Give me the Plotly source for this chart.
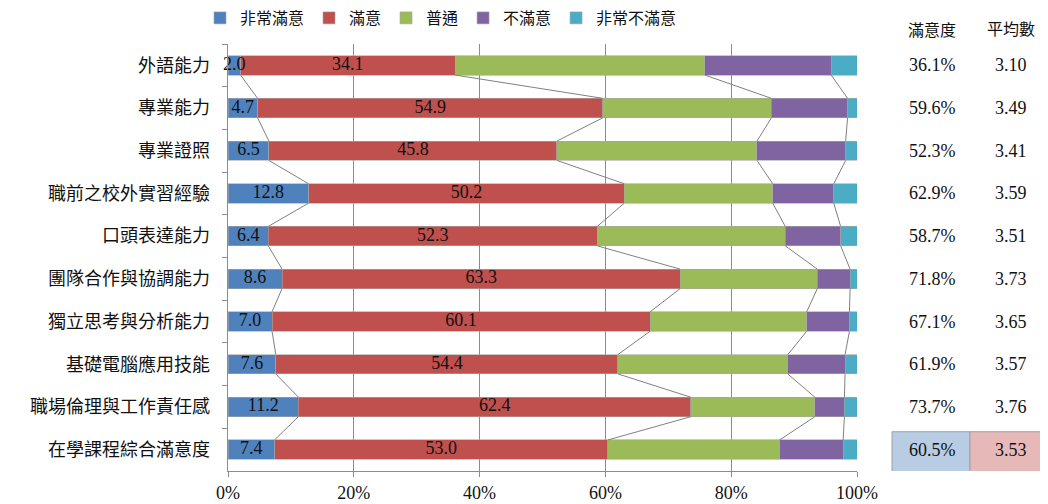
import plotly.graph_objects as go

categories = ["外語能力", "專業能力", "專業證照", "職前之校外實習經驗", "口頭表達能力",
              "團隊合作與協調能力", "獨立思考與分析能力", "基礎電腦應用技能",
              "職場倫理與工作責任感", "在學課程綜合滿意度"]
series_names = ["非常滿意", "滿意", "普通", "不滿意", "非常不滿意"]
very_satisfied = [2.0, 4.7, 6.5, 12.8, 6.4, 8.6, 7.0, 7.6, 11.2, 7.4]
satisfied = [34.1, 54.9, 45.8, 50.2, 52.3, 63.3, 60.1, 54.4, 62.4, 53.0]
neutral = [39.7, 26.8, 31.8, 23.6, 29.9, 21.8, 24.9, 27.0, 19.7, 27.3]
dissatisfied = [20.1, 12.1, 14.1, 9.7, 8.8, 5.2, 6.8, 9.1, 4.7, 10.1]
very_dissatisfied = [4.1, 1.5, 1.8, 3.7, 2.6, 1.1, 1.2, 1.9, 2.0, 2.2]
satisfaction_rate = ["36.1%", "59.6%", "52.3%", "62.9%", "58.7%", "71.8%", "67.1%", "61.9%", "73.7%", "60.5%"]
mean_score = ["3.10", "3.49", "3.41", "3.59", "3.51", "3.73", "3.65", "3.57", "3.76", "3.53"]
table_headers = ["滿意度", "平均數"]
x_ticks = [0, 20, 40, 60, 80, 100]

series_values = [very_satisfied, satisfied, neutral, dissatisfied, very_dissatisfied]
colors = ["#4F81BD", "#C0504D", "#9BBB59", "#8064A2", "#4BACC6"]

FONT = "Liberation Serif, Noto Sans CJK TC"
BARGAP = 0.545
n = len(categories)

# page body has an 8px default margin; plot area placed so it lands at x 228-857, y 44-471
ML, MT, MR, MB = 220, 36, 199, 41
PH = 504 - MT - MB
PW = 1048 - ML - MR

def px_x(p):  # screenshot x pixel -> paper x
    return (p - 8 - ML) / PW

def px_y(p):  # screenshot y pixel -> paper y
    return 1 - (p - 8 - MT) / PH

fig = go.Figure()
for name, vals, col in zip(series_names, series_values, colors):
    fig.add_trace(go.Bar(
        y=categories, x=vals, name=name, orientation="h",
        marker=dict(color=col, line=dict(color="#A6A6A6", width=0.6)),
        hoverinfo="x+y+name",
    ))

# cumulative boundaries
cums = []
for i in range(n):
    c, s = [], 0.0
    for vals in series_values:
        s += vals[i]
        c.append(s)
    cums.append(c)

# series lines connecting segment boundaries between adjacent bars
half = (1 - BARGAP) / 2
lx, ly = [], []
for i in range(n - 1):
    for k in range(len(series_values) - 1):
        lx += [cums[i][k], cums[i + 1][k], None]
        ly += [i + half, i + 1 - half, None]
fig.add_trace(go.Scatter(x=lx, y=ly, mode="lines", yaxis="y2", showlegend=False,
                         line=dict(color="#808080", width=1), hoverinfo="skip"))

# data labels for the first two series (drawn on top)
for k in range(2):
    vals = series_values[k]
    xc = [cums[i][k] - vals[i] / 2 for i in range(n)]
    fig.add_trace(go.Scatter(x=xc, y=categories, mode="text", showlegend=False,
                             text=[f"{v:.1f}" for v in vals], hoverinfo="skip",
                             cliponaxis=False,
                             textfont=dict(family=FONT, size=18, color="#111111")))

# right-side table
col_x = [px_x(932), px_x(1011)]
for cx, h in zip(col_x, table_headers):
    fig.add_annotation(x=cx, y=px_y(30), xref="paper", yref="paper", text=h,
                       xanchor="center", yanchor="middle",
                       showarrow=False, font=dict(family=FONT, size=16, color="#111111"))
fig.add_shape(type="rect", xref="paper", yref="y", x0=px_x(892), x1=px_x(970), y0=8.58, y1=9.52,
              fillcolor="#B8CCE4", line=dict(color="#A0A0A0", width=1), layer="below")
fig.add_shape(type="rect", xref="paper", yref="y", x0=px_x(970), x1=px_x(1049), y0=8.58, y1=9.52,
              fillcolor="#E6B9B8", line=dict(color="#A0A0A0", width=1), layer="below")
for cat, r, m in zip(categories, satisfaction_rate, mean_score):
    for cx, t in zip(col_x, [r, m]):
        fig.add_annotation(x=cx, y=cat, xref="paper", yref="y", text=t, showarrow=False,
                           xanchor="center", yanchor="middle",
                           font=dict(family=FONT, size=18, color="#111111"))

fig.update_layout(
    width=1048, height=504,
    barmode="stack", bargap=BARGAP,
    margin=dict(l=ML, r=MR, t=MT, b=MB, autoexpand=False),
    paper_bgcolor="white", plot_bgcolor="white",
    font=dict(family=FONT, size=16, color="#111111"),
    legend=dict(orientation="h", x=px_x(200), y=px_y(18), xanchor="left", yanchor="middle",
                font=dict(family=FONT, size=16), traceorder="normal",
                itemwidth=30, bgcolor="rgba(0,0,0,0)"),
    xaxis=dict(range=[0, 100], tickmode="array", tickvals=x_ticks,
               ticktext=[f"{v}%" for v in x_ticks], showgrid=True,
               gridcolor="#8C8C8C", gridwidth=1, showline=True, linecolor="#8C8C8C",
               ticks="outside", ticklen=5, tickcolor="#8C8C8C", zeroline=False,
               tickfont=dict(family=FONT, size=18), fixedrange=True),
    yaxis=dict(type="category", categoryorder="array", categoryarray=categories,
               range=[n - 0.5, -0.5], showline=True, linecolor="#8C8C8C",
               ticks="outside", tickson="boundaries", ticklen=5, tickcolor="#8C8C8C",
               tickfont=dict(family=FONT, size=18), ticksuffix="   ", showgrid=False),
    yaxis2=dict(overlaying="y", range=[n - 0.5, -0.5], visible=False, fixedrange=True),
)

fig.write_html("out.html")
